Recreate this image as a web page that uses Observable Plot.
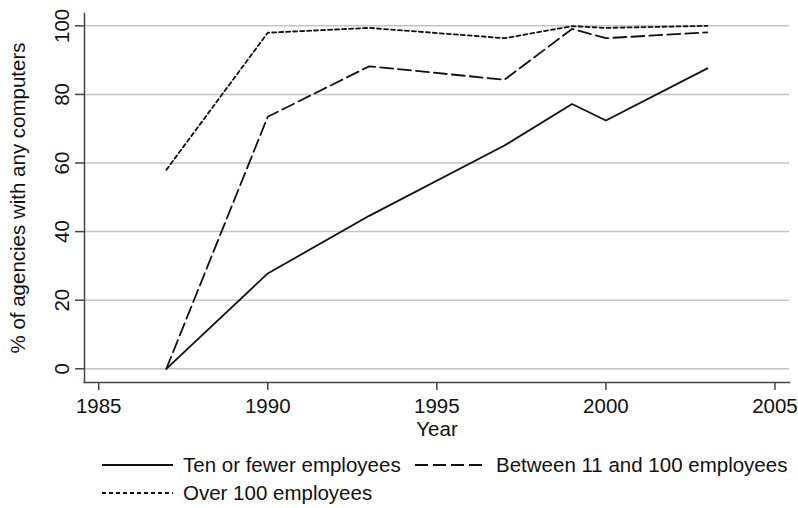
<!DOCTYPE html>
<html>
<head>
<meta charset="utf-8">
<script src="https://cdn.jsdelivr.net/npm/d3@7"></script>
<script src="https://cdn.jsdelivr.net/npm/@observablehq/plot@0.6"></script>
<style>
  body { margin: 0; background: #fff; }
  #wrap { position: relative; width: 798px; height: 508px; font-family: "Liberation Sans", Arial, Helvetica, sans-serif; color: #111; }
  #legend { position: absolute; left: 0; top: 440px; width: 798px; height: 68px; }
  .item { position: absolute; display: flex; align-items: center; font-size: 20.5px; white-space: nowrap; }
  .item svg { margin-right: 10px; }
</style>
</head>
<body>
<div id="wrap"><div id="chart"></div><div id="legend"></div></div>
<script>
// ---- data ----
const years = [1987, 1990, 1993, 1997, 1999, 2000, 2003];
const seriesNames = ["Ten or fewer employees", "Between 11 and 100 employees", "Over 100 employees"];
const tenOrFewer = [0, 27.8, 44.6, 65.1, 77.2, 72.4, 87.6];
const between11and100 = [0, 73.5, 88.2, 84.3, 99.1, 96.4, 98.1];
const over100 = [58.0, 98.0, 99.4, 96.4, 99.9, 99.4, 100];
const xTicks = [1985, 1990, 1995, 2000, 2005];
const yTicks = [0, 20, 40, 60, 80, 100];
const xTitle = "Year";
const yTitle = "% of agencies with any computers";

// ---- styles ----
const dashStyles = [null, "13,5", "4,3"];
const ink = "#111";
const axisInk = "#444";

const seriesValues = [tenOrFewer, between11and100, over100];
const rows = [];
seriesNames.forEach((name, i) => {
  years.forEach((yr, j) => rows.push({series: name, year: yr, value: seriesValues[i][j]}));
});

const chart = Plot.plot({
  width: 798,
  height: 440,
  marginLeft: 84,
  marginRight: 9,
  marginTop: 13,
  marginBottom: 58,
  style: {fontFamily: '"Liberation Sans", Arial, Helvetica, sans-serif', fontSize: "20.5px", color: ink, background: "#fff"},
  x: {domain: [1984.58, 2005.43]},
  y: {domain: [-4, 103.6]},
  marks: [
    Plot.gridY(yTicks, {stroke: "#c4c4c4", strokeOpacity: 1, strokeWidth: 1.5}),
    ...seriesNames.map((name, i) => Plot.line(rows.filter(d => d.series === name), {
      x: "year", y: "value", stroke: ink, strokeWidth: 1.8,
      strokeDasharray: dashStyles[i] ?? undefined
    })),
    Plot.frame({anchor: "left", stroke: axisInk, strokeWidth: 1.5}),
    Plot.frame({anchor: "bottom", stroke: axisInk, strokeWidth: 1.5}),
    Plot.axisX(xTicks, {
      tickSize: 8, tickPadding: 8, stroke: axisInk, strokeWidth: 1.5, fill: ink, fontSize: 20.5,
      tickFormat: d => String(d),
      label: xTitle, labelAnchor: "center", labelOffset: 53, labelArrow: "none"
    }),
    Plot.axisY(yTicks, {
      tickSize: 9, tickPadding: 7, tickRotate: -90, stroke: axisInk, strokeWidth: 1.5, fill: ink, fontSize: 20.5,
      label: yTitle, labelAnchor: "center", labelOffset: 74, labelArrow: "none"
    })
  ]
});
document.getElementById("chart").appendChild(chart);

// ---- legend (HTML, below the SVG) ----
const legendPos = [
  {left: 102, top: 25},
  {left: 415, top: 25},
  {left: 102, top: 53}
];
const legend = document.getElementById("legend");
seriesNames.forEach((name, i) => {
  const item = document.createElement("div");
  item.className = "item";
  item.style.left = legendPos[i].left + "px";
  item.style.top = (legendPos[i].top - 12) + "px";
  item.style.height = "24px";
  const dash = dashStyles[i] ? ` stroke-dasharray="${dashStyles[i]}"` : "";
  item.innerHTML = `<svg width="71" height="10"><line x1="0" x2="71" y1="5" y2="5" stroke="${ink}" stroke-width="1.8"${dash}/></svg><span>${name}</span>`;
  legend.appendChild(item);
});
</script>
</body>
</html>
